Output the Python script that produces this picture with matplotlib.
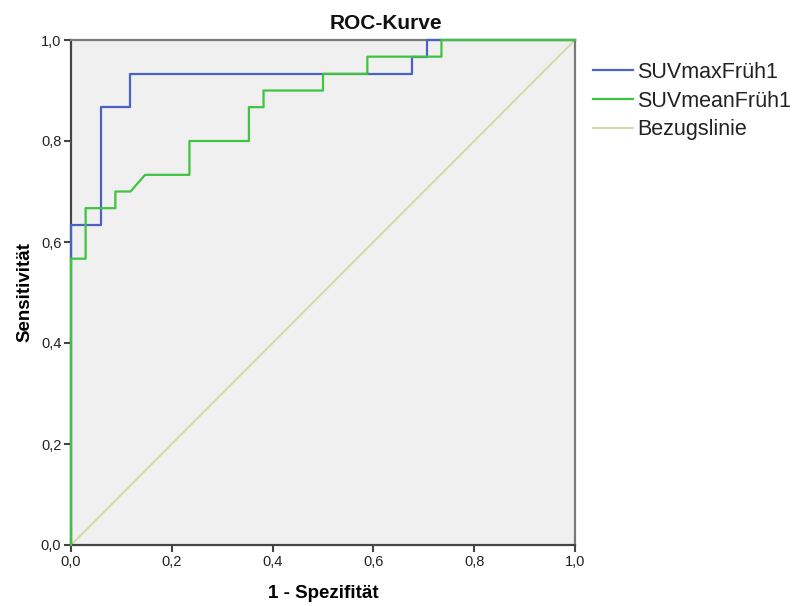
import matplotlib
matplotlib.use("Agg")
import matplotlib.pyplot as plt
from matplotlib.ticker import FuncFormatter

# ROC points (1 - specificity, sensitivity)
max_fpr = [0.0, 0.0, 0.059, 0.059, 0.118, 0.118, 0.676, 0.676, 0.706, 0.706, 1.0]
max_tpr = [0.0, 0.633, 0.633, 0.867, 0.867, 0.933, 0.933, 0.967, 0.967, 1.0, 1.0]

mean_fpr = [0.0, 0.0, 0.029, 0.029, 0.088, 0.088, 0.118, 0.147, 0.235, 0.235,
            0.353, 0.353, 0.382, 0.382, 0.5, 0.5, 0.588, 0.588, 0.735, 0.735, 1.0]
mean_tpr = [0.0, 0.567, 0.567, 0.667, 0.667, 0.7, 0.7, 0.733, 0.733, 0.8,
            0.8, 0.867, 0.867, 0.9, 0.9, 0.933, 0.933, 0.967, 0.967, 1.0, 1.0]

ref_line = [0.0, 1.0]

series_names = ["SUVmaxFrüh1", "SUVmeanFrüh1", "Bezugslinie"]
ticks = [0.0, 0.2, 0.4, 0.6, 0.8, 1.0]

plt.rcParams['font.family'] = ['Liberation Sans', 'DejaVu Sans']

fig = plt.figure(figsize=(8.01, 6.06), dpi=100)
ax = fig.add_axes([71 / 801, 1 - 545 / 606, 504 / 801, 505 / 606])
ax.set_facecolor("#f0f0f0")

ax.plot(ref_line, ref_line, color="#d8d8a4", lw=1.4, label=series_names[2], zorder=2)
ax.plot(max_fpr, max_tpr, color="#4a62c4", lw=1.6, label=series_names[0], zorder=3, clip_on=False)
ax.plot(mean_fpr, mean_tpr, color="#3ec43e", lw=1.6, label=series_names[1], zorder=4, clip_on=False)

ax.set_xlim(0, 1)
ax.set_ylim(0, 1)
ax.set_xticks(ticks)
ax.set_yticks(ticks)
comma = FuncFormatter(lambda v, p: f"{v:.1f}".replace(".", ","))
ax.xaxis.set_major_formatter(comma)
ax.yaxis.set_major_formatter(comma)
ax.tick_params(direction="out", length=5, width=1.5, color="#444444",
               labelsize=10.5, labelcolor="#222222", pad=2)

for side in ["left", "bottom"]:
    ax.spines[side].set_color("#444444")
    ax.spines[side].set_linewidth(1.6)
for side in ["top", "right"]:
    ax.spines[side].set_color("#7a7a7a")
    ax.spines[side].set_linewidth(1.6)

fig.text(386 / 801, 1 - 29 / 606, "ROC-Kurve", fontsize=15, fontweight="bold",
         ha="center", va="baseline", color="#111111")
ax.set_xlabel("1 - Spezifität", fontsize=13.5, fontweight="bold", labelpad=12)
ax.set_ylabel("Sensitivität", fontsize=13.5, fontweight="bold", labelpad=5)

handles, labels = ax.get_legend_handles_labels()
order = [labels.index(n) for n in series_names]
fig.legend([handles[i] for i in order], [labels[i] for i in order],
           loc="upper left", bbox_to_anchor=(593 / 801, 1 - 62 / 606), frameon=False,
           fontsize=15.5, handlelength=1.85, handletextpad=0.22, labelspacing=0.36,
           borderaxespad=0, borderpad=0, labelcolor="#222222")

fig.savefig("out.png", dpi=100)
